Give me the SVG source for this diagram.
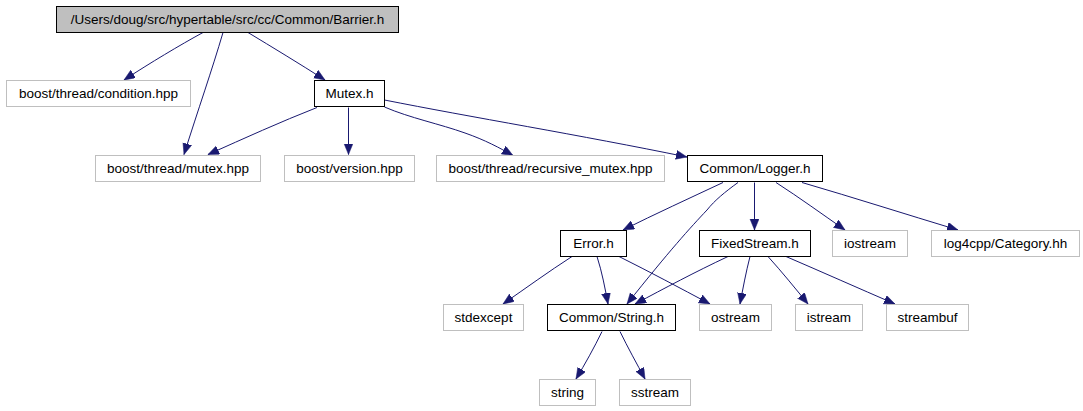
<svg xmlns="http://www.w3.org/2000/svg" width="1083" height="411" viewBox="0 0 1083 411">
<defs>
<style>
.n rect{fill:#ffffff;stroke:#000000;stroke-width:1}
.n.g rect{stroke:#bfbfbf}
.n.root rect{fill:#bfbfbf;stroke:#000000}
.n text{font-family:"Liberation Sans",Arial,Helvetica,sans-serif;font-size:13.5px;fill:#000000;text-anchor:middle}
.e path{fill:none;stroke:#191970;stroke-width:1;marker-end:url(#arr)}
</style>
<marker id="arr" markerUnits="userSpaceOnUse" markerWidth="12" markerHeight="10" refX="11" refY="4.5" orient="auto" viewBox="0 0 12 10">
<path d="M0,0 L11,4.5 L0,9 Z" fill="#191970" stroke="#191970" stroke-width="0.5"/>
</marker>
</defs>
<rect x="0" y="0" width="1083" height="411" fill="#ffffff"/>
<g id="edges" class="e">
<path d="M203,32.5 C180,45 150,63 124,80"/>
<path d="M223,32.5 C212,70 198,110 184,154.5"/>
<path d="M248,32.5 C272,47 300,64 325,80"/>
<path d="M317,107.5 C280,122 245,138 208,154.5"/>
<path d="M348.5,107.5 L348.5,154.5"/>
<path d="M384.5,107 C410,118 440,124 465,133 C485,140 500,148 513,155.5"/>
<path d="M384.5,100 C470,117 580,135 687,157"/>
<path d="M723,182.5 C690,198 655,214 623,230"/>
<path d="M738,182.5 C725,192 715,200 707,210 C690,228 670,250 627,304"/>
<path d="M754.5,182.5 L754.5,230"/>
<path d="M776,182.5 C800,198 822,214 845,230"/>
<path d="M802,182.5 C855,198 905,214 958,230"/>
<path d="M572,256.5 C548,272 526,288 503,304"/>
<path d="M597,256.5 C602,272 605,288 608,304"/>
<path d="M619,256.5 C650,272 680,288 710,304"/>
<path d="M728,256.5 C695,272 665,288 635,304"/>
<path d="M750,256.5 C746,272 743,288 740,304"/>
<path d="M768,256.5 C782,272 795,288 808,304"/>
<path d="M786,256.5 C822,272 858,288 895,304"/>
<path d="M602,331.5 C594,348 585,364 576,379"/>
<path d="M620,331.5 C628,348 637,364 645,379"/>
</g>
<g id="node_barrier" class="n root"><rect x="56.5" y="6.5" width="342" height="26"/><text x="227.5" y="23.5">/Users/doug/src/hypertable/src/cc/Common/Barrier.h</text></g>
<g id="node_condition" class="n g"><rect x="6.5" y="80.5" width="184" height="26"/><text x="98.5" y="97.5">boost/thread/condition.hpp</text></g>
<g id="node_mutexh" class="n"><rect x="314.5" y="80.5" width="70" height="26"/><text x="349.5" y="97.5">Mutex.h</text></g>
<g id="node_mutexhpp" class="n g"><rect x="95.5" y="155.5" width="165" height="26"/><text x="178" y="172.5">boost/thread/mutex.hpp</text></g>
<g id="node_version" class="n g"><rect x="284.5" y="155.5" width="130" height="26"/><text x="349.5" y="172.5">boost/version.hpp</text></g>
<g id="node_recursive" class="n g"><rect x="436.5" y="155.5" width="228" height="26"/><text x="550.5" y="172.5">boost/thread/recursive_mutex.hpp</text></g>
<g id="node_logger" class="n"><rect x="687.5" y="155.5" width="135" height="26"/><text x="755" y="172.5">Common/Logger.h</text></g>
<g id="node_error" class="n"><rect x="560.5" y="230.5" width="66" height="26"/><text x="593.5" y="247.5">Error.h</text></g>
<g id="node_fixedstream" class="n"><rect x="699.5" y="230.5" width="111" height="26"/><text x="755" y="247.5">FixedStream.h</text></g>
<g id="node_iostream" class="n g"><rect x="832.5" y="230.5" width="75" height="26"/><text x="870" y="247.5">iostream</text></g>
<g id="node_log4cpp" class="n g"><rect x="931.5" y="230.5" width="148" height="26"/><text x="1005.5" y="247.5">log4cpp/Category.hh</text></g>
<g id="node_stdexcept" class="n g"><rect x="443.5" y="304.5" width="80" height="26"/><text x="483.5" y="321.5">stdexcept</text></g>
<g id="node_string_h" class="n"><rect x="547.5" y="304.5" width="128" height="26"/><text x="611.5" y="321.5">Common/String.h</text></g>
<g id="node_ostream" class="n g"><rect x="699.5" y="304.5" width="72" height="26"/><text x="735.5" y="321.5">ostream</text></g>
<g id="node_istream" class="n g"><rect x="795.5" y="304.5" width="67" height="26"/><text x="829" y="321.5">istream</text></g>
<g id="node_streambuf" class="n g"><rect x="886.5" y="304.5" width="82" height="26"/><text x="927.5" y="321.5">streambuf</text></g>
<g id="node_string" class="n g"><rect x="539.5" y="379.5" width="56" height="26"/><text x="567.5" y="396.5">string</text></g>
<g id="node_sstream" class="n g"><rect x="619.5" y="379.5" width="71" height="26"/><text x="655" y="396.5">sstream</text></g>
</svg>
